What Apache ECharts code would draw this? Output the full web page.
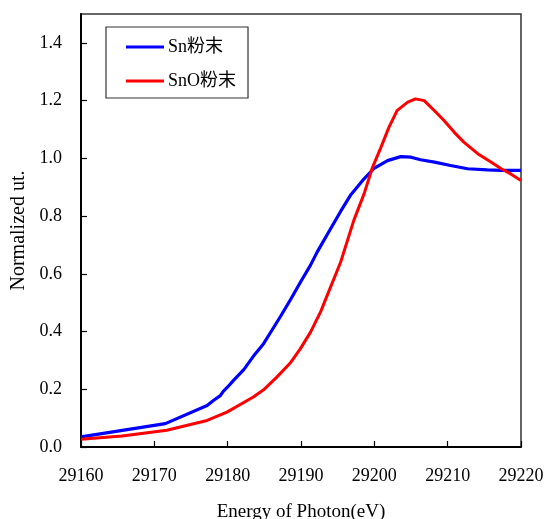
<!DOCTYPE html>
<html>
<head>
<meta charset="utf-8">
<script src="https://cdn.jsdelivr.net/npm/echarts@6/dist/echarts.min.js"></script>
<style>
  html, body { margin: 0; padding: 0; background: #fff; }
  #chart { width: 544px; height: 519px; }
</style>
</head>
<body>
<div id="chart"></div>
<script>
// Sn K-edge XANES, normalized absorption
const seriesNames = ['Sn粉末', 'SnO粉末'];

const snEnergy = [29160, 29171.5, 29177.2, 29178.1, 29179.0, 29179.4, 29180.0, 29180.8, 29182.2, 29183.5,
  29184.9, 29185.8, 29187.2, 29188.6, 29189.9, 29191.3, 29192.2, 29193.6, 29195.4, 29196.8,
  29198.6, 29199.9, 29201.8, 29203.6, 29205.0, 29206.3, 29208.2, 29210.4, 29212.7, 29215.4,
  29217.3, 29220];
const snValue = [0.035, 0.081, 0.144, 0.162, 0.178, 0.193, 0.208, 0.231, 0.268, 0.314,
  0.358, 0.395, 0.452, 0.512, 0.570, 0.630, 0.675, 0.737, 0.816, 0.874,
  0.929, 0.964, 0.992, 1.006, 1.004, 0.995, 0.987, 0.975, 0.964, 0.960,
  0.958, 0.958];

const snoEnergy = [29160, 29165.6, 29171.7, 29177.2, 29179.9, 29183.5, 29184.9, 29186.7, 29188.6, 29189.9,
  29191.3, 29192.7, 29194.0, 29195.4, 29197.2, 29198.6, 29199.7, 29200.9, 29202.0, 29203.1,
  29204.5, 29205.6, 29206.8, 29208.2, 29209.5, 29210.9, 29212.2, 29214.1, 29215.9, 29217.3,
  29218.6, 29220];
const snoValue = [0.027, 0.038, 0.058, 0.092, 0.121, 0.173, 0.198, 0.242, 0.293, 0.340,
  0.398, 0.470, 0.552, 0.640, 0.785, 0.877, 0.965, 1.038, 1.108, 1.165,
  1.194, 1.206, 1.200, 1.165, 1.131, 1.090, 1.056, 1.016, 0.987, 0.964,
  0.946, 0.923];

const xTitle = 'Energy of Photon(eV)';
const yTitle = 'Normalized ut.';

const serif = '"Liberation Serif", "Noto Sans CJK JP", serif';

function pairs(xs, ys) { return xs.map((x, i) => [x, ys[i]]); }

const chart = echarts.init(document.getElementById('chart'), null, { renderer: 'canvas' });
chart.setOption({
  animation: false,
  backgroundColor: '#ffffff',
  textStyle: { fontFamily: serif },
  grid: {
    left: 81, right: 23, top: 14, bottom: 72,
    containLabel: false, outerBoundsMode: 'none',
    show: true, borderColor: '#333', borderWidth: 1.5, backgroundColor: 'transparent'
  },
  legend: {
    left: 106, top: 27,
    orient: 'vertical',
    padding: [10, 12, 7, 20],
    itemGap: 14,
    itemWidth: 38, itemHeight: 3,
    borderColor: '#333', borderWidth: 1.2,
    textStyle: { fontFamily: serif, fontSize: 18, color: '#000', lineHeight: 20, padding: [0, 0, 0, -1] },
    data: [
      { name: seriesNames[0], icon: 'rect' },
      { name: seriesNames[1], icon: 'rect' }
    ]
  },
  xAxis: {
    type: 'value',
    min: 29160, max: 29220, interval: 10,
    name: xTitle, nameLocation: 'middle', nameGap: 56,
    nameTextStyle: { fontFamily: serif, fontSize: 19, color: '#000' },
    axisLine: { show: true, lineStyle: { color: '#000', width: 2 } },
    axisTick: { show: true, inside: true, length: 6, lineStyle: { color: '#000', width: 1.2 } },
    axisLabel: { fontFamily: serif, fontSize: 18, color: '#000', margin: 20, formatter: v => String(v) },
    splitLine: { show: false }
  },
  yAxis: {
    type: 'value',
    min: 0, max: 1.5, interval: 0.2,
    name: yTitle, nameLocation: 'middle', nameGap: 52,
    nameTextStyle: { fontFamily: serif, fontSize: 20, color: '#000' },
    axisLine: { show: true, lineStyle: { color: '#000', width: 2 } },
    axisTick: { show: true, inside: true, length: 6, lineStyle: { color: '#000', width: 1.2 } },
    axisLabel: { fontFamily: serif, fontSize: 18, color: '#000', margin: 19, showMaxLabel: false,
      formatter: v => v.toFixed(1) },
    splitLine: { show: false }
  },
  series: [
    {
      name: seriesNames[0], type: 'line', data: pairs(snEnergy, snValue),
      showSymbol: false, symbol: 'none', color: '#0000ff',
      lineStyle: { color: '#0000ff', width: 3.2 }, z: 3
    },
    {
      name: seriesNames[1], type: 'line', data: pairs(snoEnergy, snoValue),
      showSymbol: false, symbol: 'none', color: '#ff0000',
      lineStyle: { color: '#ff0000', width: 3 }, z: 4
    }
  ]
});
</script>
</body>
</html>
